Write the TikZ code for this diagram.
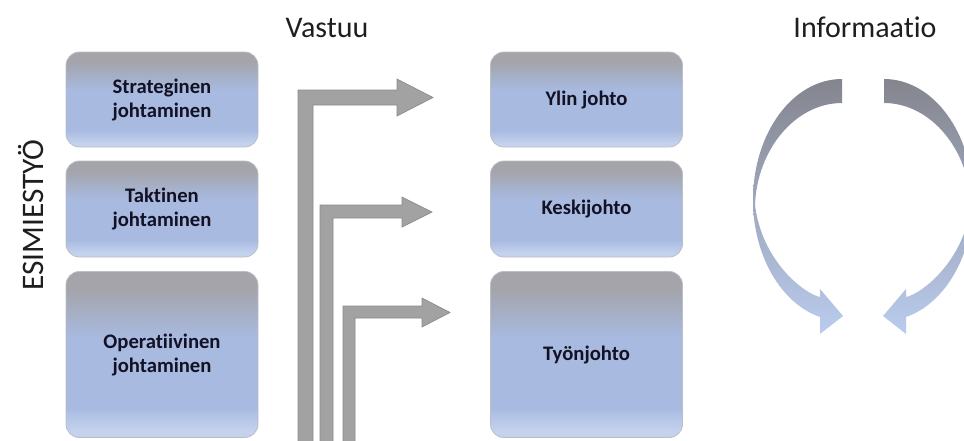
\documentclass[tikz,border=0pt]{standalone}
\usepackage{fontspec}
\setmainfont{Carlito}[Ligatures=NoCommon]

% palette
\definecolor{boxgray}{RGB}{164,164,170}
\definecolor{boxblue}{RGB}{168,186,224}
\definecolor{boxlight}{RGB}{196,210,238}
\definecolor{boxedge}{RGB}{188,190,198}
\definecolor{bentfill}{RGB}{162,162,162}
\definecolor{bentedge}{RGB}{138,138,138}
\definecolor{loopgray}{RGB}{132,133,142}
\definecolor{loopmid}{RGB}{160,166,188}
\definecolor{loopblue}{RGB}{186,204,238}
\definecolor{labelink}{RGB}{18,18,36}
\definecolor{titleink}{RGB}{30,30,30}

% grey top fading into blue, with a lighter band at the foot
\pgfdeclareverticalshading{boxshade}{100bp}{color(0bp)=(boxlight); color(27bp)=(boxlight); color(34bp)=(boxblue); color(55bp)=(boxblue); color(70bp)=(boxgray); color(100bp)=(boxgray)}

% one half of the information loop, relative to the loop's axis
\newcommand{\loophalf}{%
  (-21,79) .. controls (-70.2,79) and (-110,133.2) .. (-110,200)
  .. controls (-110,255) and (-82.4,303.3) .. (-43,317)
  -- (-43,334) -- (-20,316) -- (-43,289) -- (-43,297)
  .. controls (-58,294) and (-101,262) .. (-108,205)
  .. controls (-106,150) and (-68,103) .. (-21,103) -- cycle}

\begin{document}
\begin{tikzpicture}[x=0.75pt,y=-0.75pt,
  level/.style={draw=boxedge, line width=0.6pt, rounded corners=10pt,
    shading=boxshade, minimum width=144pt, inner sep=0pt, align=center,
    text=labelink, font=\bfseries\fontsize{15.5}{18}\selectfont},
  title/.style={anchor=base, text=titleink, font=\fontsize{22.5}{27}\selectfont},
  bent/.style={fill=bentfill, draw=bentedge, line width=0.5pt},
  loopshade/.style={top color=loopgray, middle color=loopmid, bottom color=loopblue, draw=none}]

\useasboundingbox (0,0) rectangle (964,440);
\clip (0,0) rectangle (964,440);

% headings
\node[title] (vastuu) at (327,37) {Vastuu};
\node[title] (info) at (865,37) {Informaatio};
\node[title, rotate=90, font=\fontsize{23.5}{27}\selectfont] (esimies) at (43,215) {ESIMIESTYÖ};

% management levels
\node[level, minimum height=71.25pt] (strat) at (162,99.5) {Strateginen\\johtaminen};
\node[level, minimum height=72pt]    (takt)  at (162,209)  {Taktinen\\johtaminen};
\node[level, minimum height=124.5pt] (oper)  at (162,354.5) {Operatiivinen\\johtaminen};

% organisational levels
\node[level, minimum height=71.25pt] (ylin)  at (586.5,99.5) {Ylin johto};
\node[level, minimum height=72pt]    (keski) at (586.5,209)  {Keskijohto};
\node[level, minimum height=124.5pt] (tyon)  at (586.5,354.5) {Työnjohto};

% bent responsibility arrows rising from the bottom edge
\coordinate (r1) at (433,97.5);
\coordinate (r2) at (432,212);
\coordinate (r3) at (450,312.5);
\path[bent] (298,445) |- (397,90) -- (397,79) -- (r1) -- (397,116) -- (397,105) -- (313,105) -- (313,445) -- cycle;
\path[bent] (320,445) |- (402,205) -- (402,197) -- (r2) -- (402,227) -- (402,218) -- (333,218) -- (333,445) -- cycle;
\path[bent] (343,445) |- (422,306) -- (422,298) -- (r3) -- (422,327) -- (422,318) -- (355,318) -- (355,445) -- cycle;

% information loop: two curved arrows facing each other
\begin{scope}[shift={(863,0)}]
  \shade[loopshade] \loophalf;
\end{scope}
\begin{scope}[shift={(863,0)}, xscale=-1]
  \shade[loopshade] \loophalf;
\end{scope}

\end{tikzpicture}
\end{document}
